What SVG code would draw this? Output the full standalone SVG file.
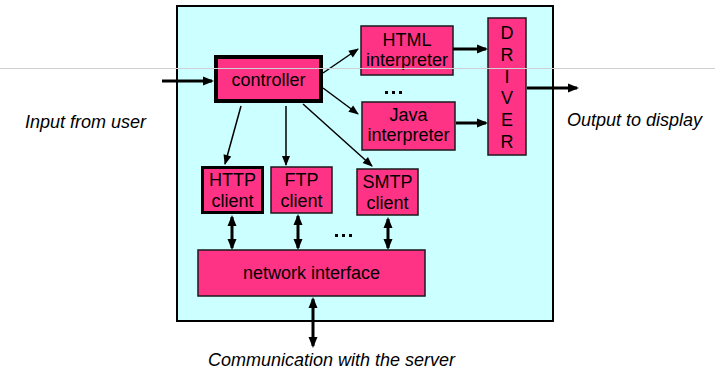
<svg xmlns="http://www.w3.org/2000/svg" width="715" height="370" viewBox="0 0 715 370">
<style>
.box{fill:#FF3385;stroke:#1a1a1a;stroke-width:1.5}
.t{font-family:"Liberation Sans",Arial,sans-serif;font-size:18px;fill:#000;text-anchor:middle}
.it{font-family:"Liberation Sans",Arial,sans-serif;font-size:18px;font-style:italic;fill:#000}
.thin{stroke:#000;stroke-width:1.5;fill:none;marker-end:url(#ah)}
.thick{stroke:#000;stroke-width:3;fill:none;marker-end:url(#AH)}
.dbl{stroke:#000;stroke-width:3;fill:none;marker-start:url(#AH);marker-end:url(#AH)}
</style>
<defs>
<marker id="ah" markerUnits="userSpaceOnUse" markerWidth="10" markerHeight="9" refX="9" refY="4" orient="auto" overflow="visible">
<path d="M0,0 L10,4 L0,8 z" fill="#000"/>
</marker>
<marker id="AH" markerUnits="userSpaceOnUse" markerWidth="11" markerHeight="10" refX="9" refY="4.5" orient="auto-start-reverse" overflow="visible">
<path d="M0,0 L11,4.5 L0,9 z" fill="#000"/>
</marker>
</defs>
<rect width="715" height="370" fill="#fff"/>
<g id="container">
<rect x="177" y="6" width="376" height="315" fill="#CCFFFF" stroke="#000" stroke-width="2"/>
</g>
<g id="controller">
<rect x="216" y="57" width="105" height="44" fill="#FF3385" stroke="#000" stroke-width="4"/>
<text class="t" x="268.5" y="86">controller</text>
</g>
<g id="html">
<rect class="box" x="361" y="26" width="92" height="49"/>
<text class="t" x="407" y="46">HTML</text>
<text class="t" x="407" y="66">interpreter</text>
</g>
<g id="java">
<rect class="box" x="362" y="102" width="93" height="48"/>
<text class="t" x="408.5" y="121">Java</text>
<text class="t" x="408.5" y="141">interpreter</text>
</g>
<g id="driver">
<rect class="box" x="488" y="18" width="38" height="137"/>
<text class="t" x="507" y="39">D</text>
<text class="t" x="507" y="61">R</text>
<text class="t" x="507" y="83">I</text>
<text class="t" x="507" y="104">V</text>
<text class="t" x="507" y="126">E</text>
<text class="t" x="507" y="148">R</text>
</g>
<g id="http">
<rect x="202.5" y="167.5" width="60" height="45" fill="#FF3385" stroke="#000" stroke-width="3"/>
<text class="t" x="232.5" y="186">HTTP</text>
<text class="t" x="232.5" y="207">client</text>
</g>
<g id="ftp">
<rect class="box" x="271" y="167" width="61" height="46"/>
<text class="t" x="301.5" y="186">FTP</text>
<text class="t" x="301.5" y="207">client</text>
</g>
<g id="smtp">
<rect class="box" x="357" y="169" width="61" height="46"/>
<text class="t" x="387.5" y="188">SMTP</text>
<text class="t" x="387.5" y="209">client</text>
</g>
<g id="network">
<rect class="box" x="198" y="250" width="227" height="46"/>
<text class="t" x="311.5" y="279">network interface</text>
</g>
<g id="dots" fill="#000">
<rect x="385" y="91" width="3" height="3"/><rect x="392" y="91" width="3" height="3"/><rect x="399" y="91" width="3" height="3"/>
<rect x="335" y="234" width="3" height="3"/><rect x="342" y="234" width="3" height="3"/><rect x="349" y="234" width="3" height="3"/>
</g>
<g id="connectors">
<line class="thick" x1="162" y1="81" x2="212" y2="81"/>
<line class="thin" x1="323" y1="73" x2="358" y2="49"/>
<line class="thin" x1="323" y1="88" x2="358" y2="114"/>
<line class="thin" x1="241" y1="106" x2="225" y2="164"/>
<line class="thin" x1="286" y1="106" x2="286" y2="165"/>
<line class="thin" x1="303" y1="104" x2="372" y2="166"/>
<line class="thick" x1="453" y1="49" x2="486" y2="49"/>
<line class="thick" x1="456" y1="123" x2="486" y2="123"/>
<line class="thick" x1="527" y1="88" x2="577" y2="88"/>
<line class="dbl" x1="232" y1="217" x2="232" y2="248"/>
<line class="dbl" x1="298" y1="216" x2="298" y2="248"/>
<line class="dbl" x1="388" y1="219" x2="388" y2="248"/>
<line class="dbl" x1="313" y1="299" x2="313" y2="346"/>
</g>
<g id="labels">
<text class="it" x="25" y="128">Input from user</text>
<text class="it" x="567" y="126">Output to display</text>
<text class="it" x="331.5" y="366" text-anchor="middle">Communication with the server</text>
</g>
<line x1="0" y1="68.5" x2="715" y2="68.5" stroke="#d0d0d0" stroke-width="1"/>
</svg>
